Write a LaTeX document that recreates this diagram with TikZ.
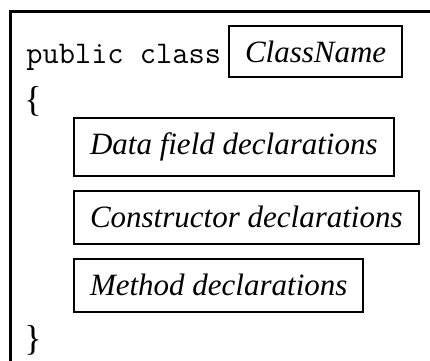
\documentclass[tikz,border=0pt]{standalone}
\usepackage{fontspec}
\setmainfont{Liberation Serif}
\tikzset{every picture/.style={line width=0.75pt}}
\tikzset{declbox/.style={draw, line width=2pt, inner xsep=16pt, inner ysep=0pt, anchor=west,
    font=\fontsize{31}{31}\selectfont\itshape}}
\tikzset{brace/.style={inner sep=0pt, anchor=base west, font=\fontsize{36}{36}\selectfont}}

\begin{document}
\begin{tikzpicture}[x=1pt,y=1pt,yscale=-1,xscale=1]
        \useasboundingbox (0,0) rectangle (430,360);
        \draw[line width=3pt]   (10.5,364) -- (10.5,11) -- (434,11) ;

        \node[inner sep=0pt, anchor=base west, font=\fontsize{31.5}{32}\ttfamily] (kw) at (26,63) {public class};
        \node[declbox, minimum height=51pt] (cname) at (228,51.5) {ClassName};
        \node[brace] (open) at (24,111) {\{};

        \node[declbox, minimum height=58pt] (fields) at (73,146.5) {Data field declarations};
        \node[declbox, minimum height=53pt] (ctors) at (73,217) {Constructor declarations};
        \node[declbox, minimum height=53pt] (methods) at (73,285) {Method declarations};

        \node[brace] (close) at (24,350) {\}};
    \end{tikzpicture}
\end{document}
